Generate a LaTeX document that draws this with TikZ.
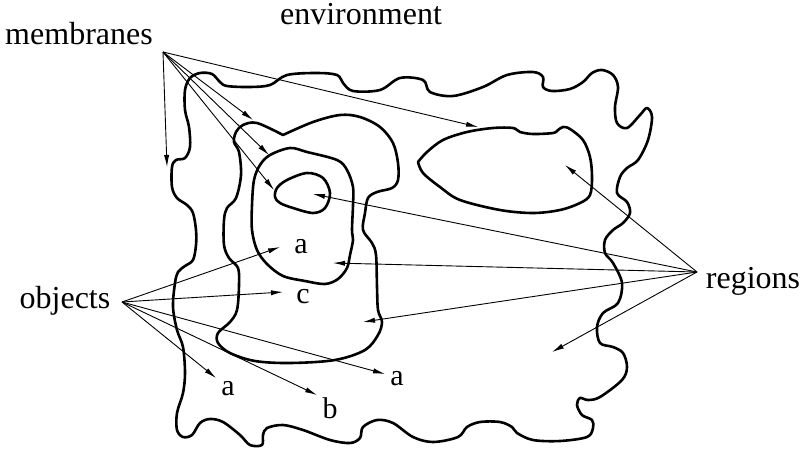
\documentclass[tikz,border=0pt]{standalone}
\usepackage{fontspec}
\setmainfont{Liberation Serif}
\usetikzlibrary{arrows.meta}
\tikzset{
  memb/.style={line width=1.3pt, line join=round, line cap=round},
  arr/.style={line width=0.45pt, -{Latex[length=6pt,width=2.6pt]}},
  lbl/.style={font=\fontsize{16}{18}\selectfont, inner sep=0pt, anchor=base},
  obj/.style={font=\fontsize{15}{17}\selectfont, inner sep=0pt, anchor=base}
}
\begin{document}
\begin{tikzpicture}[x=0.5pt,y=-0.5pt]
\useasboundingbox (0,0) rectangle (801,449);
% outer membrane (skin)
\draw[memb] plot[smooth cycle, tension=0.55] coordinates {
(185,90) (190,78) (200,73) (212,74) (220,82) (227,86) (250,87) (270,85) (287,75) (317,73) (337,75) (343,83) (353,91) (380,90) (400,78) (423,80) (430,92) (453,96) (483,87) (507,75) (533,72) (543,77) (543,87) (552,91) (570,89) (583,82) (592,73) (602,70) (613,75) (618,87) (615,107) (617,123) (627,128) (640,115) (647,108) (652,117) (648,140) (638,160) (627,168) (620,177) (617,193) (627,202) (630,213) (623,223) (613,230) (605,240) (605,253) (613,263) (622,283) (618,303) (603,313) (597,327) (600,343) (613,347) (623,353) (627,367) (622,380) (600,397) (588,400) (580,398) (577,405) (582,415) (592,420) (593,428) (587,437) (560,441) (533,440) (517,433) (512,427) (500,422) (480,422) (467,427) (458,437) (433,442) (413,437) (393,423) (377,420) (363,427) (360,438) (350,443) (330,440) (303,430) (283,425) (267,428) (263,435) (262,445) (250,445) (240,435) (223,422) (210,419) (200,423) (192,435) (183,437) (177,430) (177,413) (183,393) (185,373) (183,347) (177,330) (173,307) (175,283) (178,272) (185,266) (193,260) (196,245) (196,230) (193,213) (187,205) (177,198) (172,187) (172,167) (176,160) (185,158) (190,147) (189,127) (185,110)};
% second membrane
\draw[memb] plot[smooth, tension=0.55] coordinates {
(283,135) (313,122) (340,115) (360,117) (380,127) (393,143) (398,163) (398,180) (392,188) (377,192) (368,198) (365,213) (363,230) (372,243) (376,255) (377,287) (378,310) (382,322) (378,335) (365,350) (335,360) (290,363) (255,361) (230,353) (218,343) (218,333) (230,322) (237,310) (239,285) (238,268) (229,258) (224,245) (224,220) (227,208) (236,198) (241,175) (239,152) (234,142) (236,132) (243,125) (257,123) (283,135)};
% third membrane
\draw[memb] plot[smooth cycle, tension=0.55] coordinates {
(260,165) (270,155) (290,148) (307,152) (337,160) (347,170) (353,187) (353,205) (352,230) (353,240) (350,255) (347,268) (338,279) (325,284) (305,281) (283,276) (267,264) (257,250) (252,230) (252,205) (254,180)};
% innermost membrane
\draw[memb] plot[smooth cycle, tension=0.55] coordinates {
(277,188) (287,180) (307,173) (323,178) (330,193) (325,208) (313,213) (293,208) (280,203) (275,197)};
% right membrane
\draw[memb] plot[smooth, tension=0.55] coordinates {
(418,162) (427,152) (443,140) (467,132) (493,128) (513,128) (520,132) (533,134) (553,133) (558,130) (563,127) (570,129) (583,140) (590,157) (592,177) (590,195) (580,203) (560,210) (533,213) (500,210) (460,200) (440,187) (423,173) (418,162)};

% labels
\node[lbl] (env) at (361,25) {environment};
\node[lbl] (memL) at (79,45) {membranes};
\node[lbl] (objL) at (65,308) {objects};
\node[lbl] (regL) at (753,288) {regions};
\node[obj] (a1) at (301,253) {a};
\node[obj] (c1) at (303,303) {c};
\node[obj] (a2) at (397,385) {a};
\node[obj] (a3) at (228,395) {a};
\node[obj] (b1) at (330,418) {b};

% arrow origins
\coordinate (mO) at (163,52);
\coordinate (oO) at (122,302);
\coordinate (rO) at (697,272);
% membrane arrow tips
\coordinate (m1) at (167,167);
\coordinate (m2) at (253,120);
\coordinate (m3) at (269,155);
\coordinate (m4) at (274,190);
\coordinate (m5) at (478,127);
% region arrow tips
\coordinate (r1) at (565,165);
\coordinate (r2) at (313,194);
\coordinate (r3) at (333,263);
\coordinate (r4) at (363,322);
\coordinate (r5) at (552,352);
% object arrow tips
\coordinate (o1) at (280,247);
\coordinate (o2) at (283,292);
\coordinate (o3) at (385,374);
\coordinate (o4) at (317,395);
\coordinate (o5) at (216,378);

\foreach \t in {m1,m2,m3,m4,m5} \draw[arr] (mO) -- (\t);
\foreach \t in {r1,r2,r3,r4,r5} \draw[arr] (rO) -- (\t);
\foreach \t in {o1,o2,o3,o4,o5} \draw[arr] (oO) -- (\t);
\end{tikzpicture}
\end{document}
